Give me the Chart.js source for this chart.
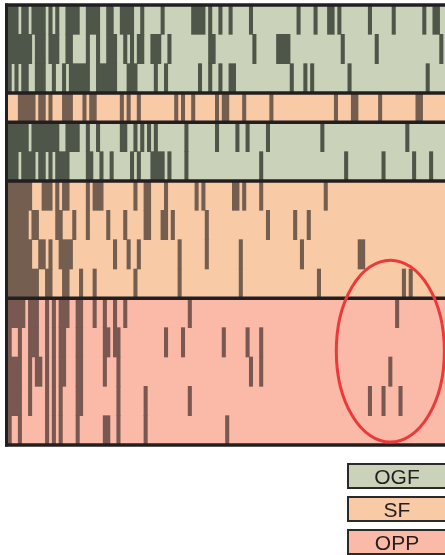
<!DOCTYPE html>
<html>
<head>
<meta charset="utf-8">
<script src="https://cdn.jsdelivr.net/npm/chart.js@4/dist/chart.umd.min.js"></script>
<style>
  html, body { margin: 0; padding: 0; background: #ffffff; overflow: hidden; }
  #wrap { width: 460px; height: 555px; }
</style>
</head>
<body>
<div id="wrap"><canvas id="chart" width="460" height="555"></canvas></div>
<script>
// Number of columns along the horizontal axis
const XMAX = 133;

// Row order, top to bottom, and the group each row belongs to
const rowLabels = ['OGF 1', 'OGF 2', 'OGF 3', 'SF 1', 'OGF 4', 'OGF 5',
  'SF 2', 'SF 3', 'SF 4', 'SF 5', 'OPP 1', 'OPP 2', 'OPP 3', 'OPP 4', 'OPP 5'];
const rowGroups = ['OGF', 'OGF', 'OGF', 'SF', 'OGF', 'OGF',
  'SF', 'SF', 'SF', 'SF', 'OPP', 'OPP', 'OPP', 'OPP', 'OPP'];

// Marked column runs per row, [first column, end column)
const ogfRow1 = [[0,3],[4,6],[7,11],[12,13],[14,15],[17,21],[23,27],[29,31],[33,37],[39,40],[45,46],
  [54,58],[59,60],[62,63],[65,66],[71,72],[85,86],[90,91],[94,96],[97,98],[106,107],[113,114],[122,123],[125,127]];
const ogfRow2 = [[0,7],[8,11],[12,15],[17,19],[23,24],[26,27],[29,32],[34,35],[36,37],[38,40],[42,45],
  [47,48],[59,61],[72,73],[79,83],[98,99],[108,109],[127,128]];
const ogfRow3 = [[0,1],[2,3],[4,6],[8,11],[13,14],[16,17],[18,24],[26,32],[35,38],[43,44],[46,47],
  [56,57],[59,60],[62,63],[65,67],[83,84],[87,88],[89,90],[100,101],[123,124]];
const sfRow1 = [[3,8],[9,11],[12,13],[16,19],[22,23],[24,26],[33,34],[35,36],[38,39],[49,50],[51,52],
  [54,55],[61,62],[63,65],[69,70],[77,78],[96,97],[101,103],[109,110],[120,122]];
const ogfRow4 = [[0,6],[7,15],[17,21],[23,24],[26,27],[33,35],[37,38],[39,40],[41,42],[43,44],[52,53],
  [61,62],[67,68],[70,71],[76,77],[92,93],[117,118]];
const ogfRow5 = [[0,3],[4,8],[9,11],[12,13],[14,18],[23,25],[27,28],[30,31],[36,37],[38,39],[42,46],
  [47,48],[52,53],[74,75],[99,100],[110,111],[119,120],[124,125]];
const sfRow2 = [[0,7],[10,13],[14,15],[16,18],[23,24],[25,28],[37,38],[40,42],[46,47],[55,56],[57,58],
  [66,68],[69,70],[74,75],[93,94]];
const sfRow3 = [[0,6],[7,9],[14,16],[19,20],[23,24],[29,30],[34,35],[40,42],[45,47],[48,49],[58,59],
  [76,77],[84,85],[88,89]];
const sfRow4 = [[0,7],[9,11],[12,13],[15,19],[31,32],[35,36],[38,39],[50,51],[58,59],[68,69],[86,87],
  [103,105]];
const sfRow5 = [[0,9],[11,13],[16,18],[21,22],[25,26],[37,38],[50,51],[68,69],[91,92],[116,117],[118,119]];
const oppRow1 = [[0,5],[6,9],[11,12],[13,14],[15,18],[20,22],[25,26],[28,29],[31,32],[34,35],[53,54],
  [114,115]];
const oppRow2 = [[0,1],[3,4],[6,9],[11,12],[13,14],[15,17],[20,22],[28,30],[31,33],[46,47],[51,52],
  [63,64],[70,71],[74,75]];
const oppRow3 = [[0,4],[6,7],[8,10],[11,12],[13,14],[15,17],[20,22],[28,29],[32,33],[71,72],[74,75],
  [112,113]];
const oppRow4 = [[0,4],[6,7],[11,12],[13,14],[15,16],[20,22],[32,33],[40,41],[53,54],[106,107],[110,111],
  [115,116]];
const oppRow5 = [[0,1],[3,4],[11,12],[13,14],[15,16],[20,21],[28,30],[32,33],[40,41],[64,65]];

const rowRuns = [ogfRow1, ogfRow2, ogfRow3, sfRow1, ogfRow4, ogfRow5,
  sfRow2, sfRow3, sfRow4, sfRow5, oppRow1, oppRow2, oppRow3, oppRow4, oppRow5];

// Legend entries
const groups = ['OGF', 'SF', 'OPP'];

// Row span of the circled region (rows counted from the top edge) and its column span
const circledCols = [96.6, 128.4];
const circledRows = [8.7, 14.9];

const fillColors = { OGF: '#CAD3B9', SF: '#F8CAA5', OPP: '#FBB9A8' };
const markColors = { OGF: '#4E5549', SF: '#735E50', OPP: '#785850' };
const lineColor = '#231F20';

// Build chart datasets from the row runs
const markDatasets = groups.map(g => ({
  label: g,
  data: [],
  backgroundColor: markColors[g],
  borderWidth: 0,
  grouped: false,
  order: 1,
  categoryPercentage: 1,
  barPercentage: 1
}));
rowRuns.forEach((runs, i) => {
  const ds = markDatasets[groups.indexOf(rowGroups[i])];
  runs.forEach(([s, e]) => ds.data.push({ x: [s, e], y: rowLabels[i] }));
});

const backgroundDataset = {
  label: 'rows',
  data: rowLabels.map(l => ({ x: [0, XMAX], y: l })),
  backgroundColor: rowGroups.map(g => fillColors[g]),
  borderWidth: 0,
  grouped: false,
  order: 2,
  categoryPercentage: 1,
  barPercentage: 1
};

// Band boundaries (row indices where the group changes), plus outer frame
const bandEdges = [0];
rowGroups.forEach((g, i) => { if (i > 0 && g !== rowGroups[i - 1]) bandEdges.push(i); });
bandEdges.push(rowGroups.length);

const framePlugin = {
  id: 'frame',
  afterDatasetsDraw(chart) {
    const { ctx, chartArea, scales } = chart;
    const ys = scales.y, xs = scales.x;
    const y0 = ys.getPixelForValue(0);
    const step = ys.getPixelForValue(1) - y0;
    const rowEdge = k => y0 + (k - 0.5) * step;

    ctx.save();
    // horizontal separators between groups
    ctx.strokeStyle = lineColor;
    ctx.lineWidth = 3.5;
    bandEdges.forEach(k => {
      const y = rowEdge(k);
      ctx.beginPath();
      ctx.moveTo(chartArea.left - 3, y);
      ctx.lineTo(chart.width, y);
      ctx.stroke();
    });
    // left frame
    ctx.lineWidth = 3;
    ctx.beginPath();
    ctx.moveTo(chartArea.left - 1.5, rowEdge(0) - 1.5);
    ctx.lineTo(chartArea.left - 1.5, rowEdge(rowGroups.length) + 1.5);
    ctx.stroke();

    // circled region
    const cx1 = xs.getPixelForValue(circledCols[0]);
    const cx2 = xs.getPixelForValue(circledCols[1]);
    const cy1 = rowEdge(circledRows[0]);
    const cy2 = rowEdge(circledRows[1]);
    ctx.strokeStyle = '#EC3A3B';
    ctx.lineWidth = 3;
    ctx.beginPath();
    ctx.ellipse((cx1 + cx2) / 2, (cy1 + cy2) / 2, (cx2 - cx1) / 2, (cy2 - cy1) / 2, 0, 0, Math.PI * 2);
    ctx.stroke();
    ctx.restore();
  }
};

// Legend boxes stacked below the plot
const legendPlugin = {
  id: 'groupLegend',
  afterDraw(chart) {
    const { ctx } = chart;
    const o = chart.options.plugins.groupLegend;
    ctx.save();
    groups.forEach((g, i) => {
      const top = o.top + i * o.pitch;
      ctx.fillStyle = fillColors[g];
      ctx.fillRect(o.left, top, o.width, o.height);
      ctx.strokeStyle = '#2B2A29';
      ctx.lineWidth = 2;
      ctx.strokeRect(o.left, top, o.width, o.height);
      ctx.fillStyle = '#231F20';
      ctx.font = o.font;
      ctx.textAlign = 'center';
      ctx.textBaseline = 'middle';
      ctx.fillText(g, o.left + o.width / 2, top + o.height / 2 + 2);
    });
    ctx.restore();
  }
};

new Chart(document.getElementById('chart'), {
  type: 'bar',
  data: {
    labels: rowLabels,
    datasets: [...markDatasets, backgroundDataset]
  },
  options: {
    indexAxis: 'y',
    responsive: false,
    animation: false,
    devicePixelRatio: 1,
    layout: { padding: { left: 8, top: 5, right: 0, bottom: 110 } },
    scales: {
      x: { type: 'linear', min: 0, max: XMAX, display: false },
      y: { type: 'category', labels: rowLabels, offset: true, display: false }
    },
    plugins: {
      legend: { display: false },
      tooltip: { enabled: false },
      groupLegend: { left: 348, top: 464, width: 98, height: 24, pitch: 33,
        font: '21px "Liberation Sans", Arial, sans-serif' }
    }
  },
  plugins: [framePlugin, legendPlugin]
});
</script>
</body>
</html>
